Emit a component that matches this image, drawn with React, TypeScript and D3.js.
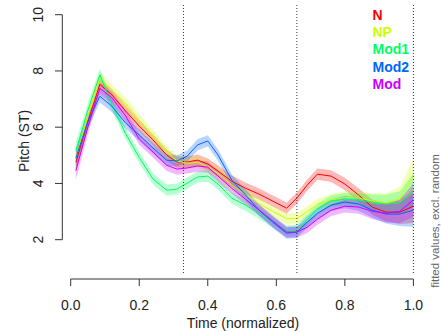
import React from "react";
import * as d3 from "d3";

const times = [0.015, 0.05, 0.085, 0.12, 0.16, 0.2, 0.24, 0.28, 0.31, 0.34, 0.37, 0.4, 0.43, 0.47, 0.51, 0.55, 0.59, 0.63, 0.66, 0.69, 0.72, 0.76, 0.8, 0.84, 0.88, 0.92, 0.96, 1.0];

const seriesNames = ["N", "NP", "Mod1", "Mod2", "Mod"];
const seriesColors = ["#FF0000", "#CCFF00", "#00FF66", "#0066FF", "#CC00FF"];

const valuesN = [4.75, 6.2, 7.52, 7.15, 6.58, 6.04, 5.55, 5.01, 4.76, 4.76, 4.83, 4.69, 4.44, 4.08, 3.83, 3.62, 3.37, 3.12, 3.48, 3.94, 4.33, 4.26, 3.98, 3.59, 3.16, 2.98, 2.98, 3.19];
const valuesNP = [4.9, 6.4, 7.75, 7.3, 6.85, 6.25, 5.7, 5.13, 4.8, 4.72, 4.75, 4.6, 4.35, 3.95, 3.6, 3.28, 3.0, 2.75, 2.75, 3.0, 3.25, 3.42, 3.5, 3.48, 3.38, 3.32, 3.45, 4.3];
const valuesMod1 = [5.15, 6.6, 7.86, 6.8, 5.77, 4.92, 4.16, 3.76, 3.8, 4.01, 4.23, 4.26, 3.98, 3.48, 3.23, 2.94, 2.62, 2.3, 2.34, 2.7, 3.09, 3.37, 3.44, 3.41, 3.34, 3.27, 3.3, 3.76];
const valuesMod2 = [4.9, 6.2, 7.1, 6.75, 6.15, 5.72, 5.26, 4.83, 4.8, 4.97, 5.37, 5.51, 5.01, 4.12, 3.59, 3.05, 2.62, 2.23, 2.27, 2.62, 2.94, 3.23, 3.34, 3.27, 3.05, 2.91, 2.91, 3.05];
const valuesMod = [4.45, 6.0, 7.38, 7.05, 6.4, 5.58, 5.12, 4.65, 4.51, 4.55, 4.62, 4.58, 4.26, 3.83, 3.44, 3.05, 2.66, 2.27, 2.27, 2.44, 2.73, 3.05, 3.19, 3.16, 3.01, 2.94, 3.01, 3.41];
const ciHalf = [0.32, 0.25, 0.22, 0.21, 0.2, 0.2, 0.2, 0.2, 0.2, 0.2, 0.2, 0.2, 0.2, 0.2, 0.2, 0.2, 0.2, 0.2, 0.2, 0.2, 0.2, 0.21, 0.22, 0.24, 0.27, 0.33, 0.42, 0.6];

const xTicks = [0, 0.2, 0.4, 0.6, 0.8, 1.0];
const yTicks = [2, 4, 6, 8, 10];
const boundaries = [0.329, 0.66, 1.0];

const allValues = [valuesN, valuesNP, valuesMod1, valuesMod2, valuesMod];

export default function App() {
  const x = d3.scaleLinear().domain([0, 1]).range([70.7, 413.4]);
  const y = d3.scaleLinear().domain([2, 10]).range([239.7, 14.7]);
  const font = "'Liberation Sans', Arial, sans-serif";

  const areaGen = (vals: number[]) =>
    d3
      .area<number>()
      .x((_, i) => x(times[i]))
      .y0((v, i) => y(v - ciHalf[i]))
      .y1((v, i) => y(v + ciHalf[i]))(vals) || "";
  const lineGen = (vals: number[]) =>
    d3
      .line<number>()
      .x((_, i) => x(times[i]))
      .y((v) => y(v))(vals) || "";

  return (
    <svg width={441} height={332} style={{ position: "absolute", left: 0, top: 0, background: "#fff" }} fontFamily={font}>
      {allValues.map((vals, k) => (
        <path key={"a" + k} d={areaGen(vals)} fill={seriesColors[k]} fillOpacity={0.28} stroke="none" />
      ))}
      {allValues.map((vals, k) => (
        <path key={"l" + k} d={lineGen(vals)} fill="none" stroke={seriesColors[k]} strokeWidth={1} />
      ))}
      {boundaries.map((b, i) => (
        <line key={"b" + i} x1={x(b)} x2={x(b)} y1={5} y2={275} stroke="#333" strokeWidth={1} strokeDasharray="1,2" />
      ))}
      <line x1={x(0)} x2={x(1)} y1={279} y2={279} stroke="#333" />
      {xTicks.map((t) => (
        <g key={"xt" + t}>
          <line x1={x(t)} x2={x(t)} y1={279} y2={286} stroke="#333" />
          <text x={x(t)} y={310} fontSize={14} textAnchor="middle" fill="#222">
            {t.toFixed(1)}
          </text>
        </g>
      ))}
      <text x={243} y={327.5} fontSize={14} textAnchor="middle" fill="#222">
        Time (normalized)
      </text>
      <line x1={62.3} x2={62.3} y1={y(2)} y2={y(10)} stroke="#333" />
      {yTicks.map((v) => (
        <g key={"yt" + v}>
          <line x1={55} x2={62.3} y1={y(v)} y2={y(v)} stroke="#333" />
          <text transform={`translate(43,${y(v)}) rotate(-90)`} fontSize={14} textAnchor="middle" fill="#222">
            {v}
          </text>
        </g>
      ))}
      <text transform={`translate(28.5,141) rotate(-90)`} fontSize={14} textAnchor="middle" fill="#222">
        Pitch (ST)
      </text>
      {seriesNames.map((n, k) => (
        <text key={"lg" + k} x={372.5} y={20 + k * 17.2} fontSize={14} fontWeight="bold" fill={seriesColors[k]}>
          {n}
        </text>
      ))}
      <text transform={`translate(438.5,221) rotate(-90)`} fontSize={11.5} textAnchor="middle" fill="#666">
        fitted values, excl. random
      </text>
    </svg>
  );
}
